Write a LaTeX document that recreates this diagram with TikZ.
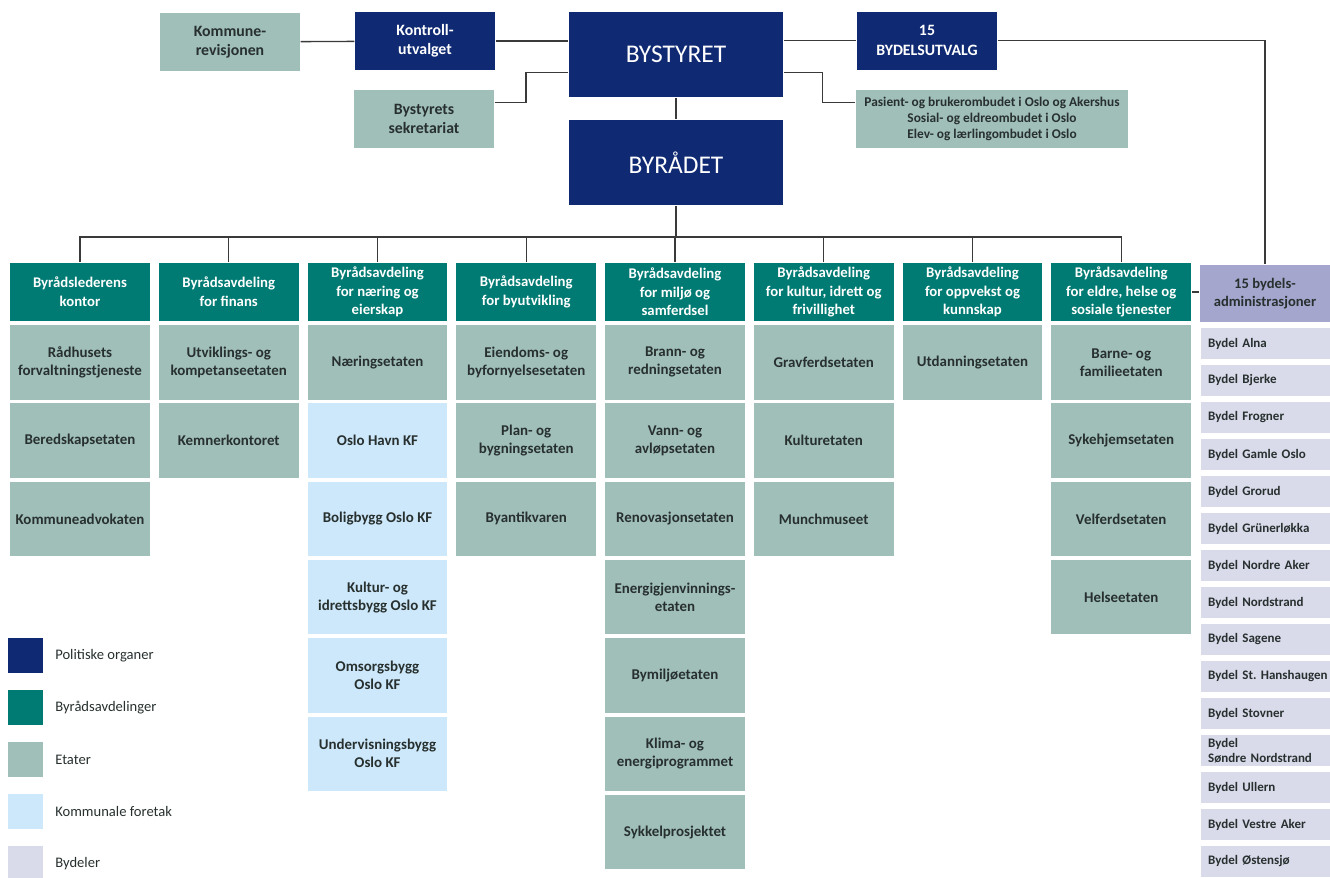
\documentclass[tikz,border=0pt]{standalone}
\usepackage{fontspec}
\setmainfont{Carlito}
\usetikzlibrary{positioning}
\usetikzlibrary{math}
\usetikzlibrary{calc}

\definecolor{politisk}{HTML}{0F2A72}
\definecolor{avdeling}{HTML}{007B73}
\definecolor{etat}{HTML}{A0BFB9}
\definecolor{foretak}{HTML}{CDE8FA}
\definecolor{bydel}{HTML}{D9DAEA}
\definecolor{bydeladm}{HTML}{A4A6CD}
\definecolor{tekst}{HTML}{27302F}
\definecolor{linje}{HTML}{3A3A3A}

\tikzset{
  boks/.style={inner sep=1pt, align=center, text=tekst,
    font=\bfseries\fontsize{8.5}{10.2}\selectfont},
  topboks/.style={boks, minimum width=2.8cm, minimum height=1.16cm,
    font=\bfseries\fontsize{9}{11}\selectfont},
  toppolitisk/.style={topboks, fill=politisk, text=white},
  topetat/.style={topboks, fill=etat},
  stor/.style={boks, fill=politisk, text=white, minimum width=4.3cm,
    minimum height=1.72cm, font=\fontsize{14.5}{17}\selectfont},
  ombudboks/.style={boks, fill=etat, minimum width=5.44cm, minimum height=1.16cm,
    font=\bfseries\fontsize{7.6}{9.1}\selectfont},
  avd/.style={boks, fill=avdeling, text=white, minimum width=2.8cm,
    minimum height=1.16cm, font=\bfseries\fontsize{8.4}{10.6}\selectfont},
  etatboks/.style={boks, fill=etat, minimum width=2.8cm, minimum height=1.49cm},
  kf/.style={etatboks, fill=foretak},
  admboks/.style={boks, fill=bydeladm, minimum width=2.6cm, minimum height=1.14cm,
    font=\bfseries\fontsize{8.3}{10.4}\selectfont},
  bydelboks/.style={boks, fill=bydel, anchor=west, align=left, text width=2.5cm,
    inner xsep=0.15cm, inner ysep=0pt, minimum height=0.62cm,
    font=\bfseries\frenchspacing\fontsize{7.4}{8.6}\selectfont},
  swatch/.style={minimum width=0.7cm, minimum height=0.7cm, inner sep=0pt},
  forklaring/.style={inner sep=0pt, text=tekst, font=\fontsize{8.3}{10}\selectfont},
}

\begin{document}
\begin{tikzpicture}[x=0.02cm, y=-0.02cm, line width=0.75pt]

  \tikzmath{
    \colA = 80;      % centres of the columns
    \colB = 228.75;
    \colC = 377.5;
    \colD = 526.25;
    \colE = 675;
    \colF = 823.75;
    \colG = 972.5;
    \colH = 1121.25;
    \rowH = 292;     % centre of the header row
    \rowA = 362.25;  % centres of the etat rows
    \rowB = 440.55;
    \rowC = 518.85;
    \rowD = 597.15;
    \rowE = 675.45;
    \rowF = 753.75;
    \rowG = 832.05;
  }

  \useasboundingbox (0,0) rectangle (1330,877);

  % top level
  \node[topetat] (revisjon) at (230,42) {Kommune-\\revisjonen};
  \node[toppolitisk] (kontroll) at (425,41) {Kontroll-\\utvalget};
  \node[stor] (styret) at (676,54.5) {BYSTYRET};
  \node[stor] (radet) at (676,162.5) {BYRÅDET};
  \node[toppolitisk] (utvalg) at (927,40.5) {15\\BYDELSUTVALG};
  \node[topetat] (sekr) at (424,119) {Bystyrets\\sekretariat};
  \node[ombudboks] (ombud) at (992,119) {Pasient- og brukerombudet i Oslo og Akershus\\Sosial- og eldreombudet i Oslo\\Elev- og lærlingombudet i Oslo};

  % byrådsavdelinger
  \node[avd] (h1) at (\colA,\rowH) {Byrådslederens\\kontor};
  \node[avd] (h2) at (\colB,\rowH) {Byrådsavdeling\\for finans};
  \node[avd] (h3) at (\colC,\rowH) {Byrådsavdeling\\for næring og\\eierskap};
  \node[avd] (h4) at (\colD,\rowH) {Byrådsavdeling\\for byutvikling};
  \node[avd] (h5) at (\colE,\rowH) {Byrådsavdeling\\for miljø og\\samferdsel};
  \node[avd] (h6) at (\colF,\rowH) {Byrådsavdeling\\for kultur, idrett og\\frivillighet};
  \node[avd] (h7) at (\colG,\rowH) {Byrådsavdeling\\for oppvekst og\\kunnskap};
  \node[avd] (h8) at (\colH,\rowH) {Byrådsavdeling\\for eldre, helse og\\sosiale tjenester};
  \node[admboks] (badm) at (1265,293.5) {15 bydels-\\administrasjoner};

  % etater and foretak
  \node[etatboks] (a1) at (\colA,\rowA) {Rådhusets\\forvaltningstjeneste};
  \node[etatboks] (a2) at (\colA,\rowB) {Beredskapsetaten};
  \node[etatboks] (a3) at (\colA,\rowC) {Kommuneadvokaten};

  \node[etatboks] (b1) at (\colB,\rowA) {Utviklings- og\\kompetanseetaten};
  \node[etatboks] (b2) at (\colB,\rowB) {Kemnerkontoret};

  \node[etatboks] (c1) at (\colC,\rowA) {Næringsetaten};
  \node[kf] (c2) at (\colC,\rowB) {Oslo Havn KF};
  \node[kf] (c3) at (\colC,\rowC) {Boligbygg Oslo KF};
  \node[kf] (c4) at (\colC,\rowD) {Kultur- og\\idrettsbygg Oslo KF};
  \node[kf] (c5) at (\colC,\rowE) {Omsorgsbygg\\Oslo KF};
  \node[kf] (c6) at (\colC,\rowF) {Undervisningsbygg\\Oslo KF};

  \node[etatboks] (d1) at (\colD,\rowA) {Eiendoms- og\\byfornyelsesetaten};
  \node[etatboks] (d2) at (\colD,\rowB) {Plan- og\\bygningsetaten};
  \node[etatboks] (d3) at (\colD,\rowC) {Byantikvaren};

  \node[etatboks] (e1) at (\colE,\rowA) {Brann- og\\redningsetaten};
  \node[etatboks] (e2) at (\colE,\rowB) {Vann- og\\avløpsetaten};
  \node[etatboks] (e3) at (\colE,\rowC) {Renovasjonsetaten};
  \node[etatboks] (e4) at (\colE,\rowD) {Energigjenvinnings-\\etaten};
  \node[etatboks] (e5) at (\colE,\rowE) {Bymiljøetaten};
  \node[etatboks] (e6) at (\colE,\rowF) {Klima- og\\energiprogrammet};
  \node[etatboks] (e7) at (\colE,\rowG) {Sykkelprosjektet};

  \node[etatboks] (f1) at (\colF,\rowA) {Gravferdsetaten};
  \node[etatboks] (f2) at (\colF,\rowB) {Kulturetaten};
  \node[etatboks] (f3) at (\colF,\rowC) {Munchmuseet};

  \node[etatboks] (g1) at (\colG,\rowA) {Utdanningsetaten};

  \node[etatboks] (k1) at (\colH,\rowA) {Barne- og\\familieetaten};
  \node[etatboks] (k2) at (\colH,\rowB) {Sykehjemsetaten};
  \node[etatboks] (k3) at (\colH,\rowC) {Velferdsetaten};
  \node[etatboks] (k4) at (\colH,\rowD) {Helseetaten};

  % bydeler
  \node[bydelboks] (by1) at (1200,343.5) {Bydel Alna};
  \node[bydelboks] (by2) at (1200,380.5) {Bydel Bjerke};
  \node[bydelboks] (by3) at (1200,417.5) {Bydel Frogner};
  \node[bydelboks] (by4) at (1200,454.5) {Bydel Gamle Oslo};
  \node[bydelboks] (by5) at (1200,491.5) {Bydel Grorud};
  \node[bydelboks] (by6) at (1200,528.5) {Bydel Grünerløkka};
  \node[bydelboks] (by7) at (1200,565.5) {Bydel Nordre Aker};
  \node[bydelboks] (by8) at (1200,602.5) {Bydel Nordstrand};
  \node[bydelboks] (by9) at (1200,639.5) {Bydel Sagene};
  \node[bydelboks] (by10) at (1200,676.5) {Bydel St. Hanshaugen};
  \node[bydelboks] (by11) at (1200,713.5) {Bydel Stovner};
  \node[bydelboks] (by12) at (1200,750.5) {Bydel\\Søndre Nordstrand};
  \node[bydelboks] (by13) at (1200,787.5) {Bydel Ullern};
  \node[bydelboks] (by14) at (1200,824.5) {Bydel Vestre Aker};
  \node[bydelboks] (by15) at (1200,861.5) {Bydel Østensjø};

  % legend
  \node[swatch, fill=politisk] (lp) at (25.5,655.5) {};
  \node[swatch, fill=avdeling] (la) at (25.5,707.5) {};
  \node[swatch, fill=etat] (le) at (25.5,759.5) {};
  \node[swatch, fill=foretak] (lf) at (25.5,811.5) {};
  \node[swatch, fill=bydel] (lb) at (25.5,863.5) {};
  \node[forklaring, right=0.22cm of lp] (lpt) {Politiske organer};
  \node[forklaring, right=0.22cm of la] (lat) {Byrådsavdelinger};
  \node[forklaring, right=0.22cm of le] (let) {Etater};
  \node[forklaring, right=0.22cm of lf] (lft) {Kommunale foretak};
  \node[forklaring, right=0.22cm of lb] (lbt) {Bydeler};

  % connectors
  \coordinate (bus) at (676,237);
  \draw[linje] (revisjon) -- (kontroll);
  \draw[linje] (kontroll.east) -- (kontroll.east -| styret.west);
  \draw[linje] (styret.east |- utvalg.west) -- (utvalg.west);
  \draw[linje] (utvalg.east) -| (badm.north);
  \draw[linje] ([yshift=-0.26cm]sekr.north east) -| ([xshift=-0.84cm,yshift=0.52cm]styret.south west)
    -- ([yshift=0.52cm]styret.south west);
  \draw[linje] ([yshift=0.52cm]styret.south east) -| ([xshift=-0.66cm,yshift=-0.26cm]ombud.north west)
    -- ([yshift=-0.26cm]ombud.north west);
  \draw[linje] (styret) -- (radet);
  \draw[linje] (radet.south) -- (bus);
  \foreach \h in {h1,h2,h3,h4,h5,h6,h7,h8}
    \draw[linje] (\h.north) |- (bus);
  \draw[linje] (h8.east) -- (h8.east -| badm.west);

\end{tikzpicture}
\end{document}
